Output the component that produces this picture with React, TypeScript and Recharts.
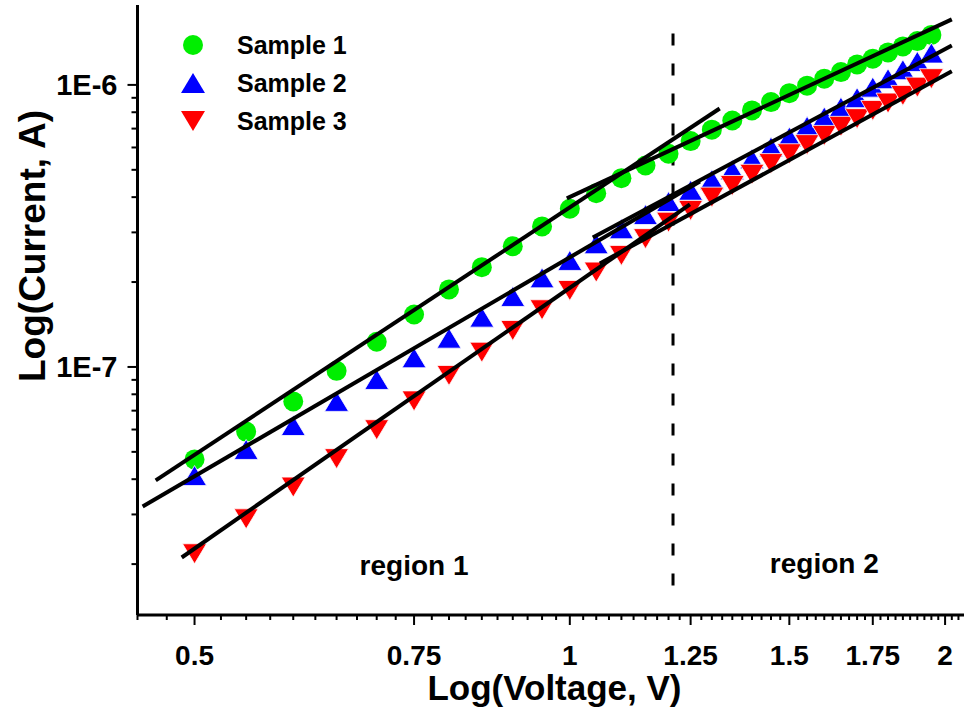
import React from "react";
import { ScatterChart, Scatter, XAxis, YAxis, ReferenceLine, ReferenceDot, Legend } from "recharts";

// voltage steps (V) shared by the three samples
const voltage = [
  0.5, 0.55, 0.6, 0.65, 0.7, 0.75, 0.8, 0.85, 0.9, 0.95,
  1.0, 1.05, 1.1, 1.15, 1.2, 1.25, 1.3, 1.35, 1.4, 1.45,
  1.5, 1.55, 1.6, 1.65, 1.7, 1.75, 1.8, 1.85, 1.9, 1.95,
];

// current (A)
const sample1 = [
  4.7e-8, 5.9e-8, 7.55e-8, 9.69e-8, 1.228e-7, 1.535e-7, 1.883e-7, 2.259e-7, 2.68e-7, 3.15e-7,
  3.64e-7, 4.13e-7, 4.67e-7, 5.18e-7, 5.7e-7, 6.32e-7, 6.94e-7, 7.48e-7, 8.12e-7, 8.69e-7,
  9.35e-7, 9.94e-7, 1.052e-6, 1.11e-6, 1.182e-6, 1.239e-6, 1.304e-6, 1.369e-6, 1.43e-6, 1.504e-6,
];
const sample2 = [
  4.12e-8, 5.1e-8, 6.2e-8, 7.55e-8, 9.03e-8, 1.078e-7, 1.265e-7, 1.502e-7, 1.778e-7, 2.07e-7,
  2.386e-7, 2.734e-7, 3.09e-7, 3.47e-7, 3.86e-7, 4.23e-7, 4.61e-7, 5.0e-7, 5.47e-7, 6.02e-7,
  6.53e-7, 7.13e-7, 7.69e-7, 8.34e-7, 9.01e-7, 9.82e-7, 1.052e-6, 1.132e-6, 1.211e-6, 1.297e-6,
];
const sample3 = [
  2.176e-8, 2.894e-8, 3.75e-8, 4.73e-8, 5.99e-8, 7.58e-8, 9.33e-8, 1.128e-7, 1.347e-7, 1.595e-7,
  1.867e-7, 2.169e-7, 2.486e-7, 2.85e-7, 3.26e-7, 3.59e-7, 4.0e-7, 4.4e-7, 4.82e-7, 5.26e-7,
  5.7e-7, 6.14e-7, 6.62e-7, 7.13e-7, 7.59e-7, 8.12e-7, 8.62e-7, 9.18e-7, 9.82e-7, 1.052e-6,
];

// linear fits (endpoints), region 1 and region 2
const fit1aV = [0.4654, 1.319];
const fit1aI = [3.96e-8, 8.25e-7];
const fit1bV = [0.9945, 2.025];
const fit1bI = [3.96e-7, 1.707e-6];
const fit2aV = [0.4543, 1.2716];
const fit2aI = [3.2e-8, 4.547e-7];
const fit2bV = [1.0434, 2.025];
const fit2bI = [2.878e-7, 1.38e-6];
const fit3aV = [0.4883, 1.2484];
const fit3aI = [2.111e-8, 3.77e-7];
const fit3bV = [1.057, 2.025];
const fit3bI = [2.328e-7, 1.117e-6];

const seriesNames = ["Sample 1", "Sample 2", "Sample 3"];
const seriesColors = ["#00ee00", "#0000ff", "#ff0000"];

const xMajor = [0.5, 0.75, 1, 1.25, 1.5, 1.75, 2];
const yMajor = [1e-7, 1e-6];
const yMajorLabels = ["1E-7", "1E-6"];
const boundaryV = 1.21;

const toPoints = (xs: number[], ys: number[]) => xs.map((v, i) => ({ v, i: ys[i] }));

// minor ticks every 0.025 V
const xTicks: number[] = [];
for (let k = 0; k <= 66; k++) xTicks.push(Math.round((0.45 + k * 0.025) * 1000) / 1000);
const yTicks: number[] = [];
for (const d of [1e-8, 1e-7]) for (let m = 1; m <= 9; m++) if (!(d === 1e-8 && m === 1)) yTicks.push(m * d);
yTicks.push(1e-6);

const FONT = "'Liberation Sans', Arial, sans-serif";

const XTick = (props: any) => {
  const { x, y, payload } = props;
  const major = xMajor.some((m) => Math.abs(m - payload.value) < 1e-6);
  return (
    <g>
      <line x1={x} x2={x} y1={y} y2={y + (major ? 10 : 5)} stroke="#000" strokeWidth={2} />
      {major && (
        <text x={x} y={y + 50} textAnchor="middle" fontFamily={FONT} fontWeight={700} fontSize={28} fill="#000">
          {String(payload.value)}
        </text>
      )}
    </g>
  );
};

const YTick = (props: any) => {
  const { x, y, payload } = props;
  const idx = yMajor.findIndex((m) => Math.abs(m - payload.value) / m < 1e-6);
  const major = idx >= 0;
  return (
    <g>
      <line x1={x - (major ? 10 : 6)} x2={x} y1={y} y2={y} stroke="#000" strokeWidth={2} />
      {major && (
        <text x={x - 20} y={y + 10} textAnchor="end" fontFamily={FONT} fontWeight={700} fontSize={29} fill="#000">
          {yMajorLabels[idx]}
        </text>
      )}
    </g>
  );
};

const Circle = (p: any) => <circle cx={p.cx} cy={p.cy} r={10} fill={seriesColors[0]} />;
const UpTri = (p: any) => (
  <polygon
    points={`${p.cx},${p.cy - 10} ${p.cx - 12},${p.cy + 10} ${p.cx + 12},${p.cy + 10}`}
    fill={seriesColors[1]}
    stroke="#fff"
    strokeWidth={0.8}
  />
);
const DownTri = (p: any) => (
  <polygon
    points={`${p.cx - 12},${p.cy - 10} ${p.cx + 12},${p.cy - 10} ${p.cx},${p.cy + 10}`}
    fill={seriesColors[2]}
    stroke="#fff"
    strokeWidth={0.8}
  />
);
const NoDot = () => <g />;

const renderLegend = () => (
  <svg width={220} height={120}>
    {seriesNames.map((name, k) => {
      const cy = 19 + k * 38;
      const cx = 12;
      return (
        <g key={name}>
          {k === 0 && <circle cx={cx} cy={cy} r={10} fill={seriesColors[0]} />}
          {k === 1 && (
            <polygon points={`${cx},${cy - 10} ${cx - 12},${cy + 10} ${cx + 12},${cy + 10}`} fill={seriesColors[1]} />
          )}
          {k === 2 && (
            <polygon points={`${cx - 12},${cy - 10} ${cx + 12},${cy - 10} ${cx},${cy + 10}`} fill={seriesColors[2]} />
          )}
          <text x={56} y={cy + 9} fontFamily={FONT} fontWeight={700} fontSize={25} fill="#000">
            {name}
          </text>
        </g>
      );
    })}
  </svg>
);

const regionLabel = (text: string) => (props: any) => {
  const vb = props.viewBox || {};
  const cx = (vb.x ?? 0) + (vb.width ?? 0) / 2;
  const cy = (vb.y ?? 0) + (vb.height ?? 0) / 2;
  return (
    <text x={cx} y={cy + 10} textAnchor="middle" fontFamily={FONT} fontWeight={700} fontSize={28} fill="#000">
      {text}
    </text>
  );
};

const fitLine = { stroke: "#000", strokeWidth: 4 };

export default function App() {
  return (
    <div style={{ position: "absolute", left: 0, top: 0, width: 964, height: 709, overflow: "hidden", background: "#fff" }}>
      <ScatterChart width={980} height={709} margin={{ top: 5, right: 8.5, bottom: 0, left: 0 }}>
        <XAxis
          dataKey="v"
          type="number"
          scale="log"
          domain={[0.45, 2.1]}
          allowDataOverflow
          ticks={xTicks}
          interval={0}
          height={94}
          tickSize={0}
          tickMargin={0}
          tickLine={false}
          tick={<XTick />}
          axisLine={{ stroke: "#000", strokeWidth: 3 }}
          label={() => (
            <text x={554.5} y={700} textAnchor="middle" fontFamily={FONT} fontWeight={700} fontSize={35} fill="#000">
              Log(Voltage, V)
            </text>
          )}
        />
        <XAxis
          xAxisId="top"
          orientation="top"
          type="number"
          domain={[0, 10]}
          ticks={[0, 1, 2, 3, 4, 5, 6, 7, 8, 9, 10]}
          interval={0}
          height={0}
          tickSize={3}
          tick={false}
          tickLine={{ stroke: "#000", strokeWidth: 1.5 }}
          axisLine={{ stroke: "#000", strokeWidth: 2.5 }}
        />
        <YAxis
          dataKey="i"
          type="number"
          scale="log"
          domain={[1.32e-8, 1.92e-6]}
          allowDataOverflow
          ticks={yTicks}
          interval={0}
          width={137.5}
          tickSize={0}
          tickMargin={0}
          tickLine={false}
          tick={<YTick />}
          axisLine={{ stroke: "#000", strokeWidth: 3 }}
          label={() => (
            <text
              x={45}
              y={246}
              transform="rotate(-90 45 246)"
              textAnchor="middle"
              fontFamily={FONT}
              fontWeight={700}
              fontSize={37}
              fill="#000"
            >
              Log(Current, A)
            </text>
          )}
        />
        <Legend
          layout="vertical"
          align="center"
          verticalAlign="middle"
          wrapperStyle={{ top: 26, left: 181, width: 220 }}
          content={renderLegend}
        />
        <Scatter name={seriesNames[0]} data={toPoints(voltage, sample1)} shape={Circle} isAnimationActive={false} />
        <Scatter name={seriesNames[1]} data={toPoints(voltage, sample2)} shape={UpTri} isAnimationActive={false} />
        <Scatter name={seriesNames[2]} data={toPoints(voltage, sample3)} shape={DownTri} isAnimationActive={false} />
        <Scatter data={toPoints(fit1aV, fit1aI)} line={fitLine} shape={NoDot} legendType="none" isAnimationActive={false} />
        <Scatter data={toPoints(fit1bV, fit1bI)} line={fitLine} shape={NoDot} legendType="none" isAnimationActive={false} />
        <Scatter data={toPoints(fit2aV, fit2aI)} line={fitLine} shape={NoDot} legendType="none" isAnimationActive={false} />
        <Scatter data={toPoints(fit2bV, fit2bI)} line={fitLine} shape={NoDot} legendType="none" isAnimationActive={false} />
        <Scatter data={toPoints(fit3aV, fit3aI)} line={fitLine} shape={NoDot} legendType="none" isAnimationActive={false} />
        <Scatter data={toPoints(fit3bV, fit3bI)} line={fitLine} shape={NoDot} legendType="none" isAnimationActive={false} />
        <ReferenceLine
          segment={[
            { x: boundaryV, y: 1.68e-8 },
            { x: boundaryV, y: 1.59e-6 },
          ]}
          stroke="#000"
          strokeWidth={3}
          strokeDasharray="12 18"
        />
        <ReferenceDot x={0.75} y={1.98e-8} r={0} fill="none" stroke="none" label={regionLabel("region 1")} />
        <ReferenceDot x={1.6} y={2.02e-8} r={0} fill="none" stroke="none" label={regionLabel("region 2")} />
      </ScatterChart>
    </div>
  );
}
